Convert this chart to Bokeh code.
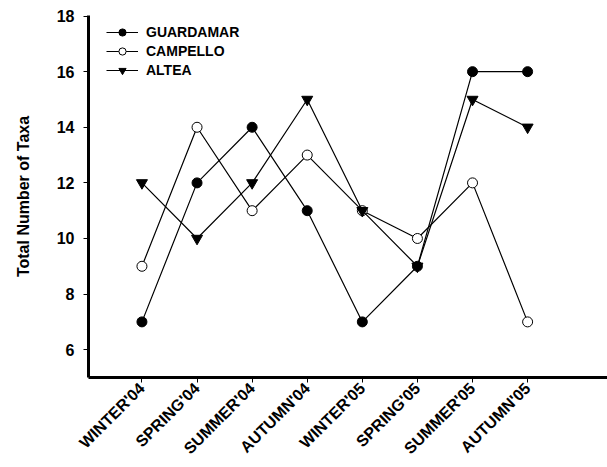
import math
from bokeh.plotting import figure
from bokeh.models import Range1d, FixedTicker, Legend, LegendItem
from bokeh.embed import file_html
from bokeh.resources import INLINE

seasons = ["WINTER'04", "SPRING'04", "SUMMER'04", "AUTUMN'04",
           "WINTER'05", "SPRING'05", "SUMMER'05", "AUTUMN'05"]
guardamar = [7, 12, 14, 11, 7, 9, 16, 16]
campello = [9, 14, 11, 13, 11, 10, 12, 7]
altea = [12, 10, 12, 15, 11, 9, 15, 14]
y_ticks = [6, 8, 10, 12, 14, 16, 18]

xs = list(range(1, len(seasons) + 1))

p = figure(width=607, height=467, output_backend="svg", toolbar_location=None,
           x_range=Range1d(0.03, 9.45), y_range=Range1d(5.0, 18.02),
           min_border_left=88, min_border_right=0, min_border_top=15, min_border_bottom=90)
p.outline_line_color = None
p.grid.grid_line_color = None
p.background_fill_color = "white"

FONT = "Liberation Sans"

r1l = p.line(xs, guardamar, line_color="black", line_width=1.2)
r1m = p.scatter(xs, guardamar, marker="circle", size=10, fill_color="black", line_color="black")
r2l = p.line(xs, campello, line_color="black", line_width=1.2)
r2m = p.scatter(xs, campello, marker="circle", size=10, fill_color="white", line_color="black", line_width=1)
r3l = p.line(xs, altea, line_color="black", line_width=1.2)
r3m = p.scatter(xs, altea, marker="inverted_triangle", size=11, fill_color="black", line_color="black")

legend = Legend(items=[
    LegendItem(label="GUARDAMAR", renderers=[r1l, r1m]),
    LegendItem(label="CAMPELLO", renderers=[r2l, r2m]),
    LegendItem(label="ALTEA", renderers=[r3l, r3m]),
], location=(18, 298))
legend.border_line_color = None
legend.background_fill_alpha = 0
legend.label_text_font = FONT
legend.label_text_font_style = "bold"
legend.label_text_font_size = "14px"
legend.label_text_color = "black"
legend.glyph_width = 32
legend.glyph_height = 18
legend.label_height = 18
legend.spacing = 1
legend.padding = 2
legend.margin = 0
legend.label_standoff = 8
p.add_layout(legend)

p.xaxis.ticker = FixedTicker(ticks=xs)
p.xaxis.major_label_overrides = {x: s for x, s in zip(xs, seasons)}
p.xaxis.major_label_orientation = math.pi / 4
p.yaxis.ticker = FixedTicker(ticks=y_ticks)

for ax in (p.xaxis, p.yaxis):
    ax.axis_line_width = 3
    ax.axis_line_color = "black"
    ax.major_tick_line_color = "black"
    ax.major_tick_line_width = 1
    ax.major_tick_out = 5
    ax.major_tick_in = 0
    ax.minor_tick_line_color = None
    ax.major_label_text_font = FONT
    ax.major_label_text_font_style = "bold"
    ax.major_label_text_color = "black"

p.xaxis.major_label_text_font_size = "16px"
p.yaxis.major_label_text_font_size = "16px"
p.yaxis.major_label_standoff = 9
p.xaxis.major_label_standoff = 3
p.yaxis.axis_label = "Total Number of Taxa"
p.yaxis.axis_label_text_font = FONT
p.yaxis.axis_label_text_font_style = "bold"
p.yaxis.axis_label_text_font_size = "16px"
p.yaxis.axis_label_text_color = "black"
p.yaxis.axis_label_standoff = 22

open("out.html", "w").write(file_html(p, INLINE))
